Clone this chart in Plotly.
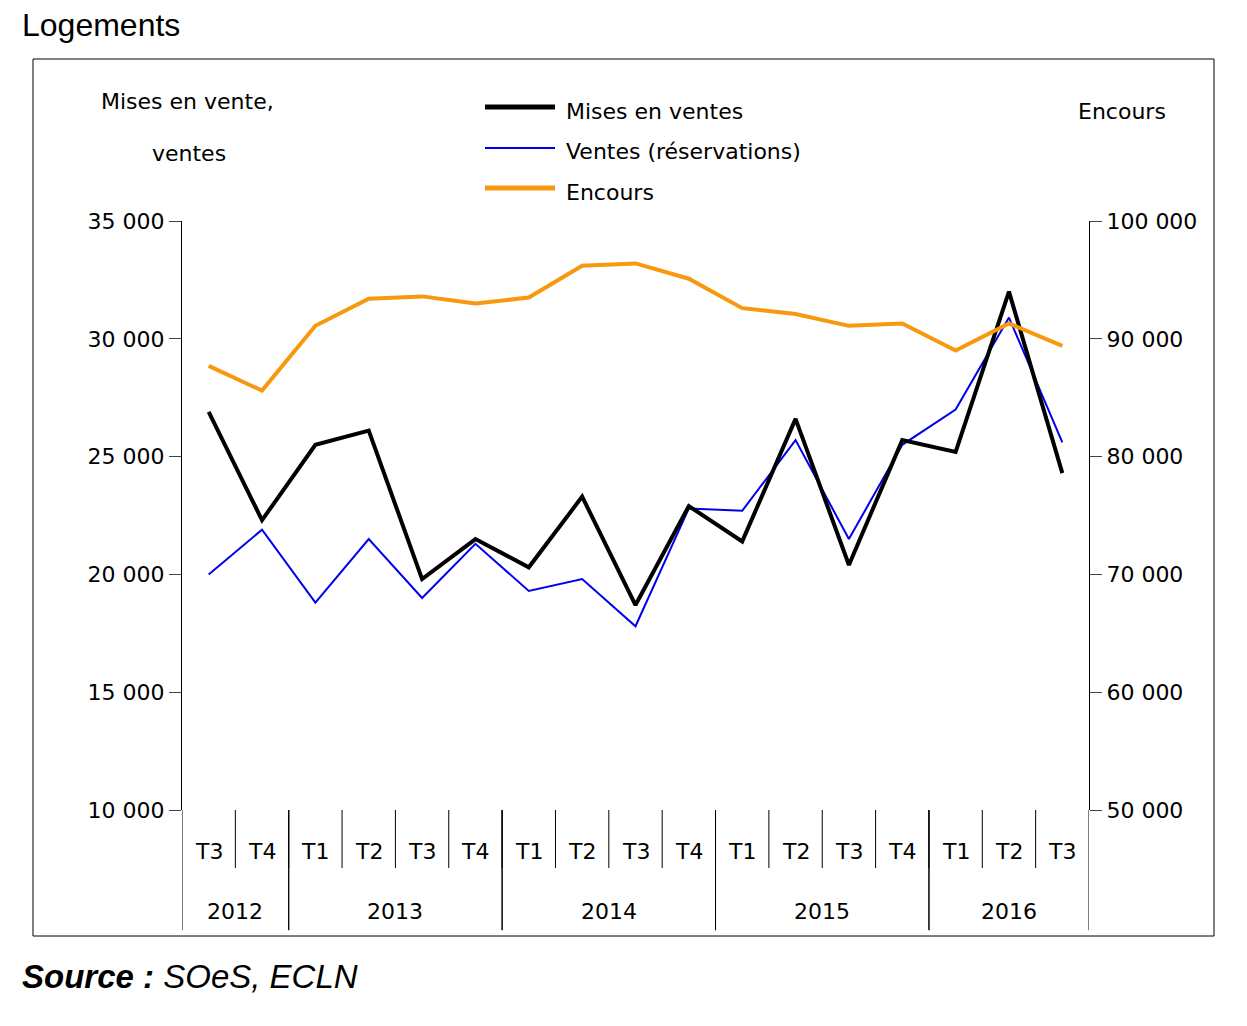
import plotly.graph_objects as go

quarters = ["T3","T4","T1","T2","T3","T4","T1","T2","T3","T4","T1","T2","T3","T4","T1","T2","T3"]
years = ["2012","2013","2014","2015","2016"]
year_spans = [(0,1),(2,5),(6,9),(10,13),(14,16)]
mises = [26900,22300,25500,26100,19800,21500,20300,23300,18700,22900,21400,26600,20400,25700,25200,32000,24300]
ventes = [20000,21900,18800,21500,19000,21300,19300,19800,17800,22800,22700,25700,21500,25500,27000,30900,25600]
encours = [87700,85600,91100,93400,93600,93000,93500,96200,96400,95100,92600,92100,91100,91300,89000,91300,89400]
left_ticks = [10000,15000,20000,25000,30000,35000]
right_ticks = [50000,60000,70000,80000,90000,100000]
fmt = lambda v: f"{v:,}".replace(",", " ")

F = "DejaVu Sans"
FS = 22
x = list(range(len(quarters)))
fig = go.Figure()
fig.add_trace(go.Scatter(x=x, y=encours, yaxis="y2", mode="lines", line=dict(color="#F7980F", width=4), name="Encours"))
fig.add_trace(go.Scatter(x=x, y=ventes, mode="lines", line=dict(color="#0000EE", width=2), name="Ventes (réservations)"))
fig.add_trace(go.Scatter(x=x, y=mises, mode="lines", line=dict(color="black", width=4), name="Mises en ventes"))

def px(xp, yp):
    return (xp-182)/907, (810-yp)/589

def txt(t, xp, yp, xa="center", font=None):
    a, b = px(xp, yp)
    return dict(x=a, y=b, xref="paper", yref="paper", xanchor=xa, yanchor="middle", text=t, showarrow=False,
                font=font or dict(family=F, size=FS, color="black"))

bx0, by0 = px(33, 936); bx1, by1 = px(1214, 59)
shapes = [dict(type="rect", xref="paper", yref="paper", x0=bx0, x1=bx1, y0=by0, y1=by1, line=dict(color="black", width=1))]
ann = []
for i, q in enumerate(quarters):
    ann.append(dict(x=i, y=-0.0713, xref="x", yref="paper", yanchor="middle", text=q, showarrow=False, font=dict(family=F, size=FS, color="black")))
    if i < len(quarters) - 1:
        shapes.append(dict(type="line", xref="x", yref="paper", x0=i+0.5, x1=i+0.5, y0=0, y1=-0.0985, line=dict(color="black", width=1)))
for (a, b), yr in zip(year_spans, years):
    ann.append(dict(x=(a+b)/2, y=-0.173, xref="x", yref="paper", yanchor="middle", text=yr, showarrow=False, font=dict(family=F, size=FS, color="black")))
    for e in (a-0.5, b+0.5):
        shapes.append(dict(type="line", xref="x", yref="paper", x0=e, x1=e, y0=0, y1=-0.204, line=dict(color="black", width=1)))

for (yy, col, w, name) in [(107, "black", 5, "Mises en ventes"), (148, "#0000EE", 2, "Ventes (réservations)"), (188, "#F7980F", 5, "Encours")]:
    x0, y0 = px(485, yy); x1, _ = px(555, yy)
    shapes.append(dict(type="line", xref="paper", yref="paper", x0=x0, x1=x1, y0=y0, y1=y0, line=dict(color=col, width=w)))
    ann.append(txt(name, 564, yy+4, xa="left"))

ann.append(txt("Mises en vente,", 187, 102))
ann.append(txt("ventes", 189, 153))
ann.append(txt("Encours", 1122, 112))
ann.append(txt("Logements", 20, 25, xa="left", font=dict(family="Liberation Sans", size=32, color="black")))
ann.append(txt("<b><i>Source :</i></b><i> SOeS, ECLN</i>", 20, 976, xa="left", font=dict(family="Liberation Sans", size=33, color="black")))

fig.update_layout(
    width=1247, height=1026, margin=dict(l=174, r=166, t=213, b=224),
    paper_bgcolor="white", plot_bgcolor="white", showlegend=False,
    xaxis=dict(range=[-0.5, 16.5], showticklabels=False, ticks="", showgrid=False, zeroline=False, showline=False),
    yaxis=dict(range=[10000, 35000], tickvals=left_ticks, ticktext=[fmt(v) for v in left_ticks], ticks="outside", ticklen=12,
               showline=True, linecolor="black", linewidth=1, showgrid=False, zeroline=False, tickfont=dict(family=F, size=FS, color="black")),
    yaxis2=dict(range=[50000, 100000], overlaying="y", side="right", tickvals=right_ticks, ticktext=[fmt(v) for v in right_ticks], ticks="outside", ticklen=12,
                showline=True, linecolor="black", linewidth=1, showgrid=False, zeroline=False, tickfont=dict(family=F, size=FS, color="black")),
    shapes=shapes, annotations=ann,
)
fig.write_html("out.html")
